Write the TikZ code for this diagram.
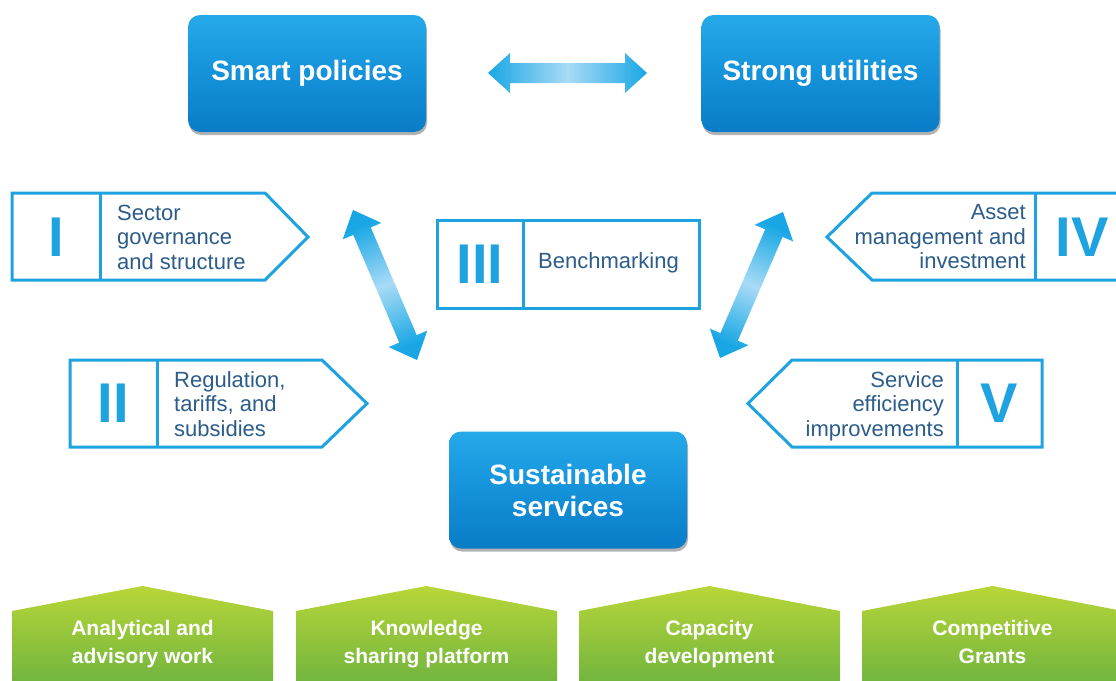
\documentclass[tikz,border=0pt]{standalone}
\usepackage{fontspec}
\setmainfont{Liberation Sans}
\usetikzlibrary{calc,shadows}
\definecolor{outl}{HTML}{1FA3E0}
\definecolor{txtb}{HTML}{2B5C8A}
\definecolor{arrd}{HTML}{18A7E4}
\definecolor{arrl}{HTML}{A8DBF6}
\definecolor{bbtop}{HTML}{26A9E9}
\definecolor{bbmid}{HTML}{1492DA}
\definecolor{bbbot}{HTML}{0A7CC7}
\definecolor{gtop}{HTML}{B8D638}
\definecolor{gbot}{HTML}{6CB23F}
\newcommand\dblarrow[6]{%
  \coordinate (da1) at ($(#1)!#3!(#2)$);
  \coordinate (da2) at ($(#2)!#3!(#1)$);
  \shade[top color=arrd, bottom color=arrd, middle color=arrl, shading angle=#6]
    (#1) -- ($(da1)!#4!90:(#2)$) -- ($(da1)!#5!90:(#2)$) -- ($(da2)!#5!90:(#2)$) -- ($(da2)!#4!90:(#2)$) -- (#2)
    -- ($(da2)!#4!-90:(#2)$) -- ($(da2)!#5!-90:(#2)$) -- ($(da1)!#5!-90:(#2)$) -- ($(da1)!#4!-90:(#2)$) -- cycle;
}
\tikzset{
  bigbox/.style={rounded corners=12pt, top color=bbtop, bottom color=bbbot, middle color=bbmid,
    drop shadow={opacity=0.3, shadow xshift=1pt, shadow yshift=-3pt, fill=black},
    minimum width=238pt, minimum height=117pt, inner sep=0pt, text=white, align=center,
    font=\bfseries\fontsize{28}{32}\selectfont},
  boxline/.style={draw=outl, line width=3pt, fill=white},
  divline/.style={draw=outl, line width=3pt},
  numstyle/.style={text=outl, font=\bfseries\fontsize{56}{60}\selectfont, inner sep=0pt},
  txtl/.style={text=txtb, font=\fontsize{22}{24.5}\selectfont, inner sep=0pt,
    execute at begin node=\strut, execute at end node=\strut},
  gshape/.style={top color=gtop, bottom color=gbot,
    drop shadow={opacity=0.2, shadow xshift=0pt, shadow yshift=-2pt, fill=black}},
  gtext/.style={text=white, align=center, font=\bfseries\fontsize{21}{28}\selectfont, inner sep=0pt,
    execute at begin node=\strut, execute at end node=\strut}
}
\begin{document}
\begin{tikzpicture}[x=1pt, y=-1pt]
\useasboundingbox (0,0) rectangle (1116,680);
\clip (0,0) rectangle (1116,680);
\fill[white] (0,0) rectangle (1116,680);

% top boxes
\node[bigbox] (smart) at (307,73.5) {Smart policies};
\node[bigbox] (strong) at (820.5,73.5) {Strong utilities};
\node[bigbox] (sust) at (568,490) {Sustainable\\services};

% horizontal arrow
\coordinate (h1) at (488,73);
\coordinate (h2) at (647,73);
\dblarrow{h1}{h2}{22pt}{20pt}{10pt}{90}

% diagonal arrows
\coordinate (l1) at (353,210);
\coordinate (l2) at (417,360);
\dblarrow{l1}{l2}{23pt}{21pt}{9.5pt}{23}
\coordinate (r1) at (783,212);
\coordinate (r2) at (720,358);
\dblarrow{r1}{r2}{23pt}{21pt}{9.5pt}{-23}

% box I
\path[boxline] (12,193) -- (265,193) -- (308,237) -- (265,280) -- (12,280) -- cycle;
\draw[divline] (100,193) -- (100,280);
\node[numstyle] (n1) at (56,237) {I};
\node[txtl, anchor=west, align=left] (t1) at (117,240.5) {Sector\\governance\\and structure};

% box II
\path[boxline] (70,360) -- (322,360) -- (367,403.5) -- (322,447) -- (70,447) -- cycle;
\draw[divline] (157,360) -- (157,447);
\node[numstyle] (n2) at (113.5,403.5) {II};
\node[txtl, anchor=west, align=left] (t2) at (174,407.5) {Regulation,\\tariffs, and\\subsidies};

% box III
\path[boxline] (437,220) rectangle (699,308);
\draw[divline] (523,220) -- (523,308);
\node[numstyle] (n3) at (480,264) {III};
\node[txtl, anchor=west] (t3) at (538,264) {Benchmarking};

% box IV
\path[boxline] (1125,193) -- (872,193) -- (827,237) -- (872,280) -- (1125,280) -- cycle;
\draw[divline] (1035,193) -- (1035,280);
\node[numstyle] (n4) at (1082,237) {IV};
\node[txtl, anchor=east, align=right] (t4) at (1026,240.5) {Asset\\management and\\investment};

% box V
\path[boxline] (1042,360) -- (792,360) -- (748,403.5) -- (792,447) -- (1042,447) -- cycle;
\draw[divline] (957,360) -- (957,447);
\node[numstyle] (n5) at (999.5,403.5) {V};
\node[txtl, anchor=east, align=right] (t5) at (944,407.5) {Service\\efficiency\\improvements};

% green shapes
\path[gshape] (12,611) -- (142.5,586) -- (273,611) -- (273,690) -- (12,690) -- cycle;
\node[gtext] (g1) at (142.5,646) {Analytical and\\advisory work};
\path[gshape] (296,611) -- (426.5,586) -- (557,611) -- (557,690) -- (296,690) -- cycle;
\node[gtext] (g2) at (426.5,646) {Knowledge\\sharing platform};
\path[gshape] (579,611) -- (709.5,586) -- (840,611) -- (840,690) -- (579,690) -- cycle;
\node[gtext] (g3) at (709.5,646) {Capacity\\development};
\path[gshape] (862,611) -- (992.5,586) -- (1123,611) -- (1123,690) -- (862,690) -- cycle;
\node[gtext] (g4) at (992.5,646) {Competitive\\Grants};
\end{tikzpicture}
\end{document}
